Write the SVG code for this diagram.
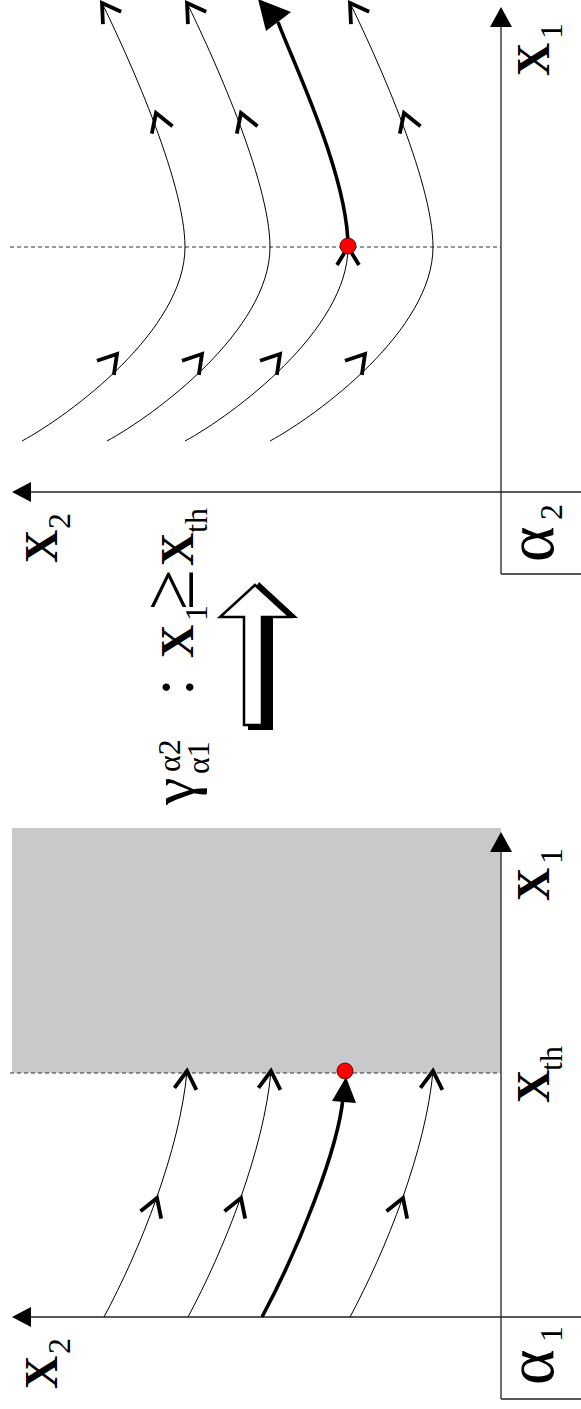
<svg xmlns="http://www.w3.org/2000/svg" xmlns:xlink="http://www.w3.org/1999/xlink" width="581" height="1409" viewBox="0 0 581 1409">
<style>
.ax{stroke:#222;stroke-width:1.3;fill:none}
.dash{stroke:#333;stroke-width:1.2;stroke-dasharray:4 3;fill:none}
.thin{stroke:#000;stroke-width:1;fill:none}
.thick{stroke:#000;stroke-width:3.6;fill:none}
.lbl{font-family:"Liberation Serif",serif;fill:#000}
.bx{font-weight:bold;font-size:46px}
.sub{font-size:32px}
.al{font-size:68px}
.dot{fill:#ff0000;stroke:#400;stroke-width:0.8}
</style>
<defs>
<path id="chev" d="M-18,-11 L0,0 L-18,11" fill="none" stroke="#000" stroke-width="3.8"/>
<path id="ctop" d="M22,441 C70,415 185,330 185,247 C185,180 125,50 102,3"/>
<path id="cbot" d="M104,1317 C140,1250 180,1150 187,1071"/>
</defs>

<g id="panel-alpha2">
  <line class="dash" x1="10" y1="247" x2="501" y2="247"/>
  <line class="ax" x1="30" y1="492" x2="581" y2="492"/>
  <polygon points="12,492 31,482 31,502" fill="#000"/>
  <line class="ax" x1="501" y1="574" x2="501" y2="25"/>
  <polygon points="501,7 490,27 512,27" fill="#000"/>
  <line class="ax" x1="501" y1="574" x2="581" y2="574"/>
</g>

<g id="panel-alpha1">
  <rect x="12" y="828" width="489" height="245" fill="#c9c9cb"/>
  <line class="dash" x1="10" y1="1073" x2="501" y2="1073"/>
  <line class="ax" x1="30" y1="1317" x2="581" y2="1317"/>
  <polygon points="12,1317 31,1307 31,1327" fill="#000"/>
  <line class="ax" x1="501" y1="1399" x2="501" y2="850"/>
  <polygon points="501,832 490,852 512,852" fill="#000"/>
  <line class="ax" x1="501" y1="1399" x2="581" y2="1399"/>
</g>

<g id="connectors">
  <use xlink:href="#ctop" class="thin"/>
  <use xlink:href="#ctop" class="thin" transform="translate(85,0)"/>
  <use xlink:href="#ctop" class="thin" transform="translate(248,0)"/>
  <path class="thin" d="M185,441 C233,415 348,330 348,247"/>
  <path class="thick" d="M348,247 C348,175 292,60 278,22"/>
  <polygon points="258,-1 266,31 291,12" fill="#000"/>
  <use xlink:href="#chev" transform="translate(117,354) rotate(-50)"/>
  <use xlink:href="#chev" transform="translate(202,354) rotate(-50)"/>
  <use xlink:href="#chev" transform="translate(280,354) rotate(-50)"/>
  <use xlink:href="#chev" transform="translate(365,354) rotate(-50)"/>
  <use xlink:href="#chev" transform="translate(156,113) rotate(-110)"/>
  <use xlink:href="#chev" transform="translate(241,113) rotate(-110)"/>
  <use xlink:href="#chev" transform="translate(404,113) rotate(-110)"/>
  <use xlink:href="#chev" transform="translate(102,3) rotate(-124)"/>
  <use xlink:href="#chev" transform="translate(187,3) rotate(-124)"/>
  <use xlink:href="#chev" transform="translate(350,3) rotate(-124)"/>
  <use xlink:href="#chev" transform="translate(348,247) rotate(-90)"/>
  <use xlink:href="#cbot" class="thin"/>
  <use xlink:href="#cbot" class="thin" transform="translate(84,0)"/>
  <use xlink:href="#cbot" class="thin" transform="translate(246,0)"/>
  <path class="thick" d="M262,1317 C298,1250 338,1150 343,1098"/>
  <polygon points="346,1077 332,1101 356,1103" fill="#000"/>
  <use xlink:href="#chev" transform="translate(157,1198) rotate(-70)"/>
  <use xlink:href="#chev" transform="translate(241,1198) rotate(-70)"/>
  <use xlink:href="#chev" transform="translate(403,1198) rotate(-70)"/>
  <use xlink:href="#chev" transform="translate(187,1071) rotate(-85)"/>
  <use xlink:href="#chev" transform="translate(271,1071) rotate(-85)"/>
  <use xlink:href="#chev" transform="translate(433,1071) rotate(-85)"/>
</g>

<g id="switch-point-alpha2"><circle class="dot" cx="348" cy="246" r="8"/></g>
<g id="switch-point-alpha1"><circle class="dot" cx="345" cy="1071" r="8"/></g>

<g id="transition-arrow">
  <polygon points="259,582 298,618 273,618 273,730 248,730 248,600" fill="#000"/>
  <polygon points="255,585 220,617 244,617 244,725 262,725 262,617 290,617" fill="#fff" stroke="#000" stroke-width="2.5" stroke-linejoin="miter"/>
</g>

<g id="label-x1-top" class="lbl">
  <text class="bx" transform="translate(549,76) rotate(-90)">X</text>
  <text class="sub" transform="translate(562,39) rotate(-90)">1</text>
</g>
<g id="label-x2-top" class="lbl">
  <text class="bx" transform="translate(57,563) rotate(-90)">X</text>
  <text class="sub" transform="translate(70,529) rotate(-90)">2</text>
</g>
<g id="label-alpha2" class="lbl">
  <text class="al" transform="translate(553,562) rotate(-90)">α</text>
  <text class="sub" transform="translate(562,520) rotate(-90)">2</text>
</g>
<g id="label-x1-bottom" class="lbl">
  <text class="bx" transform="translate(549,901) rotate(-90)">X</text>
  <text class="sub" transform="translate(562,864) rotate(-90)">1</text>
</g>
<g id="label-xth" class="lbl">
  <text class="bx" transform="translate(549,1103) rotate(-90)">X</text>
  <text class="sub" transform="translate(562,1071) rotate(-90)">th</text>
</g>
<g id="label-x2-bottom" class="lbl">
  <text class="bx" transform="translate(57,1389) rotate(-90)">X</text>
  <text class="sub" transform="translate(70,1354) rotate(-90)">2</text>
</g>
<g id="label-alpha1" class="lbl">
  <text class="al" transform="translate(553,1385) rotate(-90)">α</text>
  <text class="sub" transform="translate(562,1342) rotate(-90)">1</text>
</g>

<g id="transition-condition" class="lbl">
  <text style="font-size:62px" transform="translate(194,805) rotate(-90)">γ</text>
  <text class="sub" transform="translate(209,774) rotate(-90)">α1</text>
  <text class="sub" transform="translate(180,772) rotate(-90)">α2</text>
  <text style="font-size:64px" transform="translate(193,696) rotate(-90)">:</text>
  <text class="bx" transform="translate(193,658) rotate(-90)">X</text>
  <text class="sub" transform="translate(207,621) rotate(-90)">1</text>
  <text style="font-size:74px" transform="translate(193,610) rotate(-90)">≥</text>
  <text class="bx" transform="translate(193,566) rotate(-90)">X</text>
  <text class="sub" transform="translate(207,533) rotate(-90)">th</text>
</g>
</svg>
